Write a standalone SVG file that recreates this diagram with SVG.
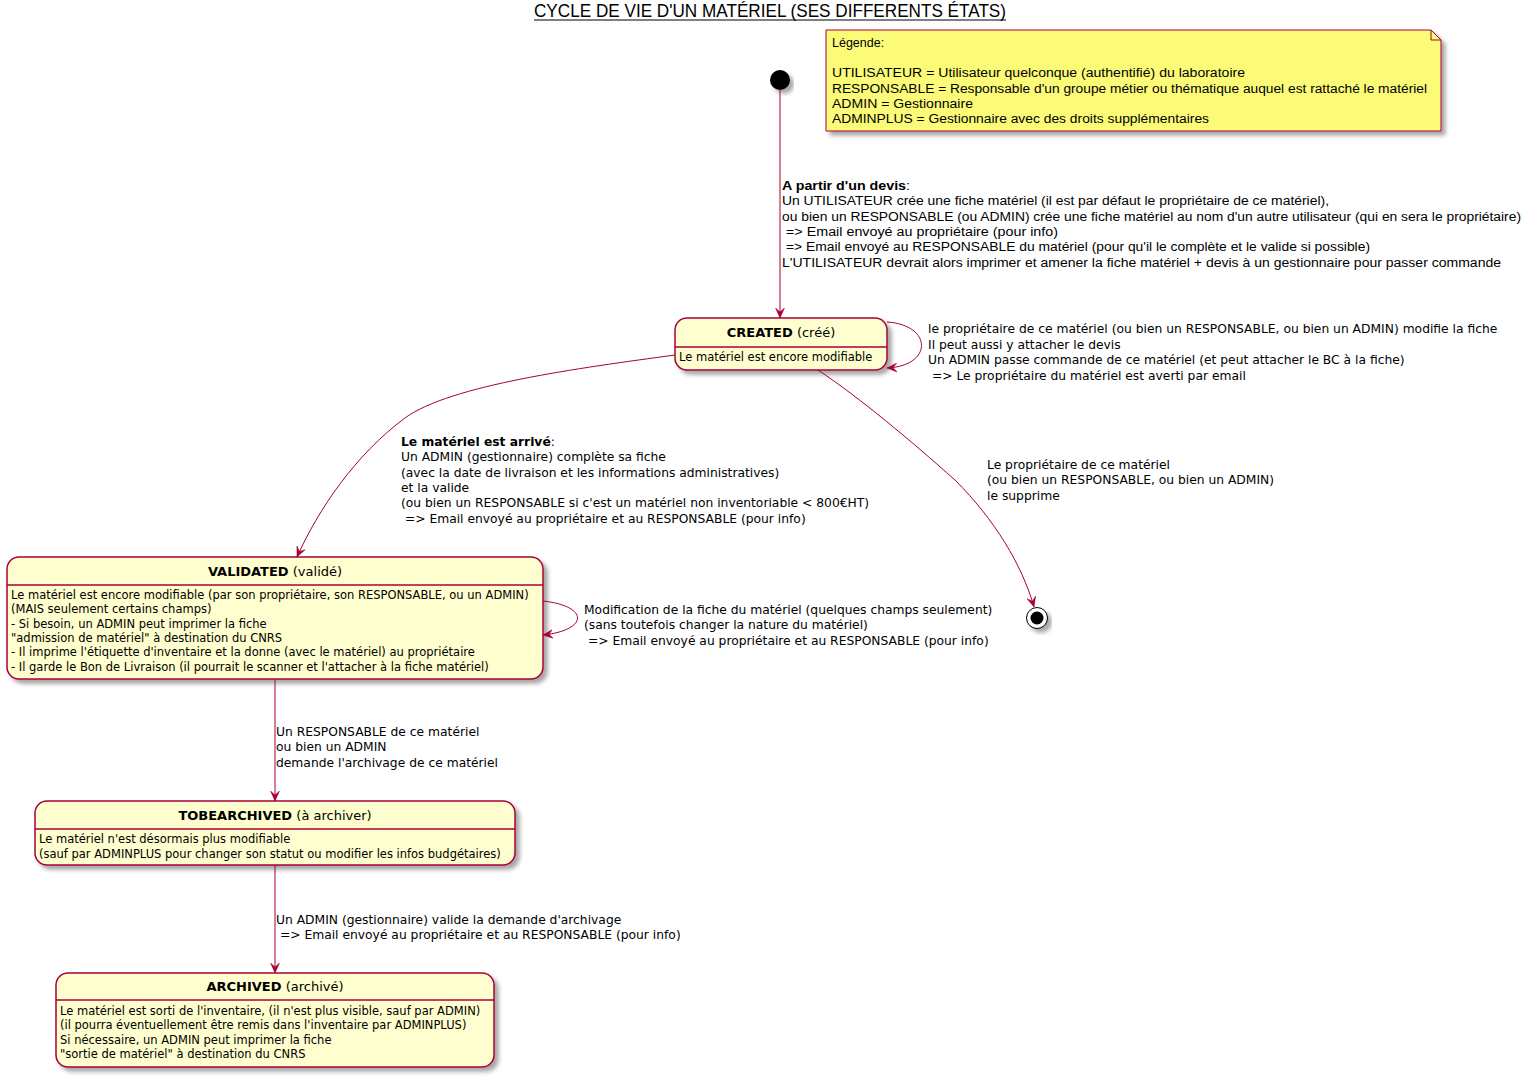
<svg xmlns="http://www.w3.org/2000/svg" width="1531" height="1077" viewBox="0 0 1531 1077">
<style>
.t{font-family:"DejaVu Sans",Verdana,sans-serif;font-size:12.3px;fill:#000}
.b{font-family:"DejaVu Sans",Verdana,sans-serif;font-size:11.5px;fill:#000}
.h{font-family:"DejaVu Sans",Verdana,sans-serif;font-size:13px;fill:#000}
.n{font-family:"Liberation Sans",Arial,sans-serif;font-size:12.5px;fill:#000}
.bold{font-weight:bold}
.st{fill:#FEFECE;stroke:#A80036;stroke-width:1.5}
.sep{stroke:#A80036;stroke-width:1.5}
.e{fill:none;stroke:#A80036;stroke-width:1}
</style>
<defs>
<filter id="sh" x="-10%" y="-10%" width="130%" height="140%">
<feDropShadow dx="4" dy="4" stdDeviation="2" flood-color="#000" flood-opacity="0.35"/>
</filter>
<marker id="ar" viewBox="0 0 10 10" refX="10" refY="5" markerWidth="10" markerHeight="10" markerUnits="userSpaceOnUse" orient="auto">
<path d="M10,5 L0,0.5 L4,5 L0,9.5 Z" fill="#A80036" stroke="#A80036" stroke-width="0.5"/>
</marker>
</defs>
<rect width="1531" height="1077" fill="#fff"/>
<g id="title">
<text x="770" y="17" text-anchor="middle" font-family="Liberation Sans, Arial, sans-serif" font-size="19" textLength="472" lengthAdjust="spacingAndGlyphs">CYCLE DE VIE D'UN MATÉRIEL (SES DIFFERENTS ÉTATS)</text>
<line x1="534" y1="20" x2="1006" y2="20" stroke="#000" stroke-width="1"/>
</g>
<g id="note">
<path d="M826,30 L1431,30 L1441,40 L1441,131 L826,131 Z" fill="#FBFB77" stroke="#A80036" stroke-width="1" filter="url(#sh)"/>
<path d="M1431,30 L1431,40 L1441,40" fill="none" stroke="#A80036" stroke-width="1"/>
<text class="n" x="832" y="47">Légende:</text>
<text class="n" x="832" y="77" textLength="413" lengthAdjust="spacingAndGlyphs">UTILISATEUR = Utilisateur quelconque (authentifié) du laboratoire</text>
<text class="n" x="832" y="93" textLength="595" lengthAdjust="spacingAndGlyphs">RESPONSABLE = Responsable d'un groupe métier ou thématique auquel est rattaché le matériel</text>
<text class="n" x="832" y="108" textLength="141" lengthAdjust="spacingAndGlyphs">ADMIN = Gestionnaire</text>
<text class="n" x="832" y="123" textLength="377" lengthAdjust="spacingAndGlyphs">ADMINPLUS = Gestionnaire avec des droits supplémentaires</text>
</g>
<g id="start">
<circle cx="780" cy="80" r="10" fill="#000" filter="url(#sh)"/>
</g>
<g id="end">
<circle cx="1037" cy="618" r="10.5" fill="#fff" stroke="#000" stroke-width="1" filter="url(#sh)"/>
<circle cx="1037" cy="618" r="6.5" fill="#000"/>
</g>
<g id="CREATED">
<rect class="st" x="675" y="318" width="212" height="52" rx="12" filter="url(#sh)"/>
<line class="sep" x1="675" y1="347" x2="887" y2="347"/>
<text class="h" x="781" y="337" text-anchor="middle"><tspan class="bold">CREATED</tspan> (créé)</text>
<text class="b" x="679" y="361">Le matériel est encore modifiable</text>
</g>
<g id="VALIDATED">
<rect class="st" x="7" y="557" width="536" height="122" rx="12" filter="url(#sh)"/>
<line class="sep" x1="7" y1="585" x2="543" y2="585"/>
<text class="h" x="275" y="576" text-anchor="middle"><tspan class="bold">VALIDATED</tspan> (validé)</text>
<text class="b" x="11" y="599">Le matériel est encore modifiable (par son propriétaire, son RESPONSABLE, ou un ADMIN)</text>
<text class="b" x="11" y="613">(MAIS seulement certains champs)</text>
<text class="b" x="11" y="628">- Si besoin, un ADMIN peut imprimer la fiche</text>
<text class="b" x="11" y="642">"admission de matériel" à destination du CNRS</text>
<text class="b" x="11" y="656">- Il imprime l'étiquette d'inventaire et la donne (avec le matériel) au propriétaire</text>
<text class="b" x="11" y="671">- Il garde le Bon de Livraison (il pourrait le scanner et l'attacher à la fiche matériel)</text>
</g>
<g id="TOBEARCHIVED">
<rect class="st" x="35" y="801" width="480" height="64" rx="12" filter="url(#sh)"/>
<line class="sep" x1="35" y1="829" x2="515" y2="829"/>
<text class="h" x="275" y="820" text-anchor="middle"><tspan class="bold">TOBEARCHIVED</tspan> (à archiver)</text>
<text class="b" x="39" y="843">Le matériel n'est désormais plus modifiable</text>
<text class="b" x="39" y="858">(sauf par ADMINPLUS pour changer son statut ou modifier les infos budgétaires)</text>
</g>
<g id="ARCHIVED">
<rect class="st" x="56" y="973" width="438" height="94" rx="12" filter="url(#sh)"/>
<line class="sep" x1="56" y1="1000" x2="494" y2="1000"/>
<text class="h" x="275" y="991" text-anchor="middle"><tspan class="bold">ARCHIVED</tspan> (archivé)</text>
<text class="b" x="60" y="1015">Le matériel est sorti de l'inventaire, (il n'est plus visible, sauf par ADMIN)</text>
<text class="b" x="60" y="1029">(il pourra éventuellement être remis dans l'inventaire par ADMINPLUS)</text>
<text class="b" x="60" y="1044">Si nécessaire, un ADMIN peut imprimer la fiche</text>
<text class="b" x="60" y="1058">"sortie de matériel" à destination du CNRS</text>
</g>
<g id="connectors">
<path class="e" d="M780,90 L780,318" marker-end="url(#ar)"/>
<path class="e" d="M887,322 C933,325 933,366 887,368" marker-end="url(#ar)"/>
<path class="e" d="M675,355 C580,368 450,385 405,418 C355,455 318,510 297,557" marker-end="url(#ar)"/>
<path class="e" d="M818,370 C860,398 910,440 955,480 C995,520 1022,565 1034,607" marker-end="url(#ar)"/>
<path class="e" d="M543,601 C589,606 589,630 543,635" marker-end="url(#ar)"/>
<path class="e" d="M275,679 L275,801" marker-end="url(#ar)"/>
<path class="e" d="M275,865 L275,973" marker-end="url(#ar)"/>
<g id="labels">
<text class="n" x="782" y="190" textLength="128" lengthAdjust="spacingAndGlyphs"><tspan class="bold">A partir d'un devis</tspan>:</text>
<text class="n" x="782" y="205" textLength="547" lengthAdjust="spacingAndGlyphs">Un UTILISATEUR crée une fiche matériel (il est par défaut le propriétaire de ce matériel),</text>
<text class="n" x="782" y="221" textLength="739" lengthAdjust="spacingAndGlyphs">ou bien un RESPONSABLE (ou ADMIN) crée une fiche matériel au nom d'un autre utilisateur (qui en sera le propriétaire)</text>
<text class="n" x="786" y="236" textLength="272" lengthAdjust="spacingAndGlyphs">=&gt; Email envoyé au propriétaire (pour info)</text>
<text class="n" x="786" y="251" textLength="584" lengthAdjust="spacingAndGlyphs">=&gt; Email envoyé au RESPONSABLE du matériel (pour qu'il le complète et le valide si possible)</text>
<text class="n" x="782" y="267" textLength="719" lengthAdjust="spacingAndGlyphs">L'UTILISATEUR devrait alors imprimer et amener la fiche matériel + devis à un gestionnaire pour passer commande</text>
<text class="t" x="928" y="333">le propriétaire de ce matériel (ou bien un RESPONSABLE, ou bien un ADMIN) modifie la fiche</text>
<text class="t" x="928" y="349">Il peut aussi y attacher le devis</text>
<text class="t" x="928" y="364">Un ADMIN passe commande de ce matériel (et peut attacher le BC à la fiche)</text>
<text class="t" x="928" y="380">&#160;=&gt; Le propriétaire du matériel est averti par email</text>
<text class="t" x="401" y="446"><tspan class="bold">Le matériel est arrivé</tspan>:</text>
<text class="t" x="401" y="461">Un ADMIN (gestionnaire) complète sa fiche</text>
<text class="t" x="401" y="477">(avec la date de livraison et les informations administratives)</text>
<text class="t" x="401" y="492">et la valide</text>
<text class="t" x="401" y="507">(ou bien un RESPONSABLE si c'est un matériel non inventoriable &lt; 800€HT)</text>
<text class="t" x="401" y="523">&#160;=&gt; Email envoyé au propriétaire et au RESPONSABLE (pour info)</text>
<text class="t" x="987" y="469">Le propriétaire de ce matériel</text>
<text class="t" x="987" y="484">(ou bien un RESPONSABLE, ou bien un ADMIN)</text>
<text class="t" x="987" y="500">le supprime</text>
<text class="t" x="584" y="614">Modification de la fiche du matériel (quelques champs seulement)</text>
<text class="t" x="584" y="629">(sans toutefois changer la nature du matériel)</text>
<text class="t" x="584" y="645">&#160;=&gt; Email envoyé au propriétaire et au RESPONSABLE (pour info)</text>
<text class="t" x="276" y="736">Un RESPONSABLE de ce matériel</text>
<text class="t" x="276" y="751">ou bien un ADMIN</text>
<text class="t" x="276" y="767">demande l'archivage de ce matériel</text>
<text class="t" x="276" y="924">Un ADMIN (gestionnaire) valide la demande d'archivage</text>
<text class="t" x="276" y="939">&#160;=&gt; Email envoyé au propriétaire et au RESPONSABLE (pour info)</text>
</g>
</g>
</svg>
